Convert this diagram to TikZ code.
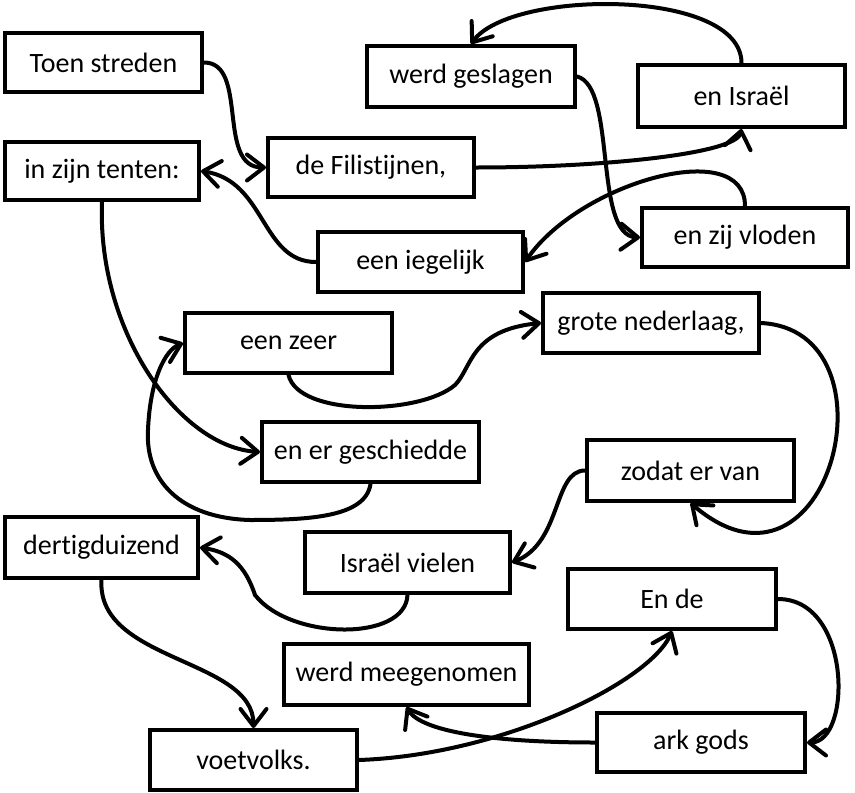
\documentclass[tikz,border=0pt]{standalone}
\usepackage{fontspec}
\setmainfont{Carlito}[Ligatures={NoCommon,NoRare,NoContextual}]
\usetikzlibrary{arrows.meta}
\begin{document}
\begin{tikzpicture}[x=1pt,y=-1pt,
  box/.style={draw,line width=4pt,inner sep=0pt,font=\fontsize{28}{32}\selectfont},
  conn/.style={line width=4pt,line cap=round,-{Straight Barb[length=17pt,width=26pt,round]}}]
\useasboundingbox (0,0) rectangle (855,793);
\node[box,minimum width=197pt,minimum height=59pt] (toen) at (103.5,62.5) {Toen streden};
\node[box,minimum width=194pt,minimum height=58pt] (tenten) at (102,171) {in zijn tenten:};
\node[box,minimum width=206pt,minimum height=59pt] (fil) at (371,167.5) {de Filistijnen,};
\node[box,minimum width=208pt,minimum height=61pt] (geslagen) at (471,76.5) {werd geslagen};
\node[box,minimum width=207pt,minimum height=62pt] (israel) at (741.5,96) {en Israël};
\node[box,minimum width=206pt,minimum height=59pt] (vloden) at (745,237.5) {en zij vloden};
\node[box,minimum width=205pt,minimum height=60pt] (iegelijk) at (420.5,262) {een iegelijk};
\node[box,minimum width=207pt,minimum height=60pt] (zeer) at (288.5,343) {een zeer};
\node[box,minimum width=216pt,minimum height=60pt] (grote) at (651,323) {grote nederlaag,};
\node[box,minimum width=217pt,minimum height=60pt] (geschiedde) at (370.5,452) {en er geschiedde};
\node[box,minimum width=207pt,minimum height=61pt] (zodat) at (690.5,470.5) {zodat er van};
\node[box,minimum width=193pt,minimum height=61pt] (dertig) at (101.5,547.5) {dertigduizend};
\node[box,minimum width=205pt,minimum height=61pt] (vielen) at (407.5,562.5) {Israël vielen};
\node[box,minimum width=208pt,minimum height=60pt] (ende) at (672,599) {En de};
\node[box,minimum width=245pt,minimum height=61pt] (meegenomen) at (406.5,674.5) {werd meegenomen};
\node[box,minimum width=207pt,minimum height=60pt] (voetvolks) at (253.5,760) {voetvolks.};
\node[box,minimum width=208pt,minimum height=59pt] (ark) at (701,742.5) {ark gods};

\draw[conn] (toen.east) .. controls +(45,0) and +(-50,0) .. (fil.west);
\draw[conn] (fil.east) .. controls +(125,0) and +(-5,25) .. (israel.south);
\draw[conn] (israel.north) .. controls +(0,-75) and +(40,-55) .. (geslagen.north);
\draw[conn] (geslagen.east) .. controls +(40,10) and +(-47,-2) .. (vloden.west);
\draw[conn] (vloden.north) .. controls +(0,-70) and +(55,-80) .. (iegelijk.east);
\draw[conn] (iegelijk.west) .. controls +(-55,0) and +(65,10) .. (tenten.east);
\draw[conn] (tenten.south) .. controls +(-5,130) and +(-80,-5) .. (geschiedde.west);
\draw[conn] (geschiedde.south) .. controls +(-5,33) and +(60,0) .. (250,520)
  .. controls (180,518) and (145,480) .. (148,430)
  .. controls (150,380) and (165,350) .. (zeer.west);
\draw[conn] (zeer.south) .. controls +(10,42) and +(-35,30) .. (455,385)
  .. controls (472,368) and (470,330) .. (grote.west);
\draw[conn] (grote.east) .. controls +(141,7) and +(139.5,119) .. (zodat.south);
\draw[conn] (zodat.west) .. controls +(-32,0) and +(50,-20) .. (vielen.east);
\draw[conn] (vielen.south) .. controls +(-2,47) and +(35,45) .. (255,595)
  .. controls (245,565) and (230,552) .. (dertig.east);
\draw[conn] (dertig.south) .. controls +(-5,82) and +(0,-70) .. (voetvolks.north);
\draw[conn] (voetvolks.east) .. controls +(143,-5) and +(-22,51) .. (ende.south);
\draw[conn] (ende.east) .. controls +(74,0) and +(45,0) .. (ark.east);
\draw[conn] (ark.west) .. controls +(-100,0) and +(15,25) .. (meegenomen.south);
\end{tikzpicture}
\end{document}
